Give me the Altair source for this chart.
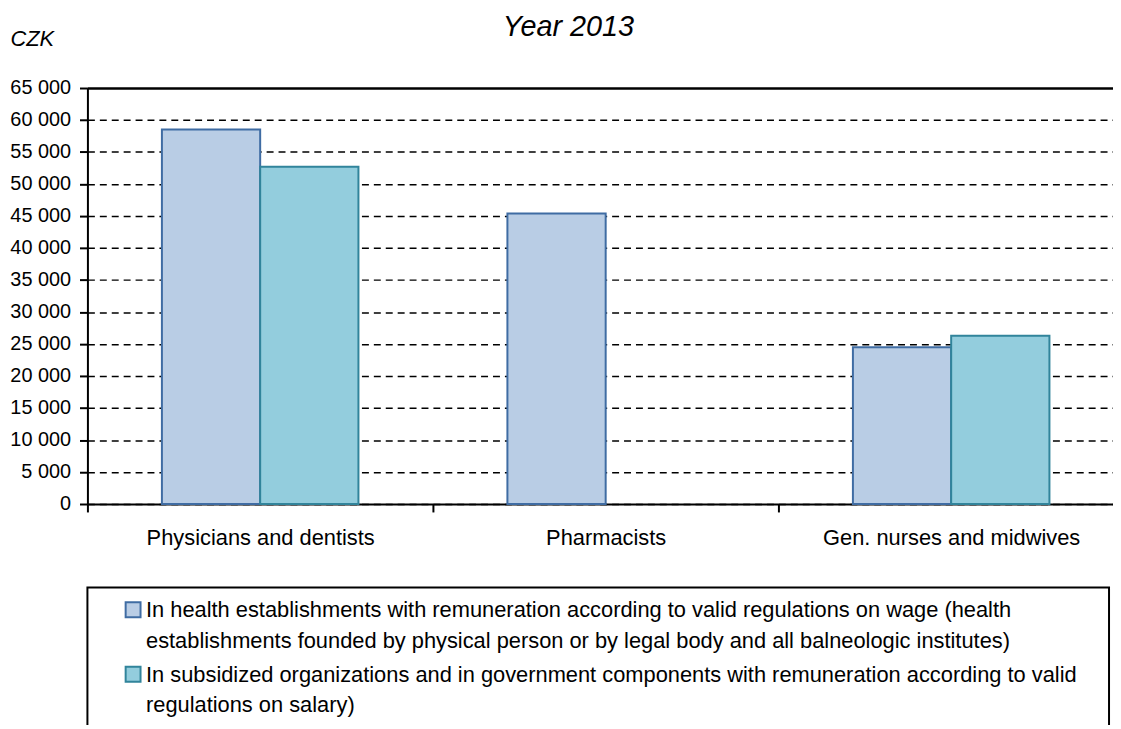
import altair as alt
import pandas as pd

categories = ["Physicians and dentists", "Pharmacists", "Gen. nurses and midwives"]
series_names = [
    "In health establishments with remuneration according to valid regulations on wage (health\n"
    "establishments founded by physical person or by legal body and all balneologic institutes)",
    "In subsidized organizations and in government components with remuneration according to valid\n"
    "regulations on salary)",
]
wage_values = [58500, 45400, 24500]
salary_values = [52700, None, 26300]
y_tick_values = list(range(0, 65001, 5000))
fill_colors = ["#B9CDE5", "#93CDDD"]
stroke_colors = ["#3F6CA3", "#31849B"]

rows = []
for cat, val in zip(categories, wage_values):
    rows.append({"category": cat, "series": series_names[0], "value": val})
for cat, val in zip(categories, salary_values):
    if val is not None:
        rows.append({"category": cat, "series": series_names[1], "value": val})
df = pd.DataFrame(rows)

FONT = "Liberation Sans"

legend = alt.Legend(
    title=" ",
    titleOrient="right",
    titlePadding=13,
    titleFontSize=22,
    orient="none",
    legendX=0,
    legendY=503,
    direction="vertical",
    symbolType="M-1,-2.0H1V0.0H-1Z",
    symbolSize=225,
    symbolStrokeWidth=2,
    symbolOffset=16,
    labelOffset=2,
    labelFontSize=22,
    labelFont=FONT,
    labelColor="black",
    labelLimit=3000,
    labelBaseline="alphabetic",
    labelExpr="split(datum.label, '\\n')",
    rowPadding=11,
    padding=19,
    strokeColor="black",
)

base = alt.Chart(df).mark_bar(strokeWidth=2).encode(
    x=alt.X(
        "category:N",
        sort=categories,
        scale=alt.Scale(domain=categories, rangeMax=1044, paddingInner=0, paddingOuter=0),
        axis=alt.Axis(
            title=None,
            labelAngle=0,
            tickBand="extent",
            tickSize=8,
            tickWidth=2,
            tickColor="black",
            domainColor="black",
            domainWidth=2,
            labelFontSize=22,
            labelFont=FONT,
            labelColor="black",
            labelPadding=16,
            labelLimit=400,
            grid=False,
        ),
    ),
    xOffset=alt.XOffset(
        "series:N", scale=alt.Scale(domain=series_names, paddingInner=0, paddingOuter=0.758)
    ),
    y=alt.Y(
        "value:Q",
        scale=alt.Scale(domain=[0, 65000], nice=False),
        axis=alt.Axis(
            values=y_tick_values,
            labelExpr="replace(format(datum.value, ','), ',', ' ')",
            title="CZK",
            titleAngle=0,
            titleX=-78,
            titleY=-43,
            titleAlign="left",
            titleBaseline="alphabetic",
            titleFontStyle="italic",
            titleFontWeight="normal",
            titleFontSize=22,
            titleFont=FONT,
            titleColor="black",
            labelFontSize=20,
            labelFont=FONT,
            labelColor="black",
            labelPadding=9,
            tickSize=8,
            tickWidth=2,
            tickColor="black",
            domainColor="black",
            domainWidth=2,
            grid=True,
            gridColor="black",
            gridDash={"condition": {"test": "datum.value === 65000", "value": []}, "value": [7, 5]},
            gridWidth={"condition": {"test": "datum.value === 65000", "value": 2.5}, "value": 1.5},
            gridOpacity=1,
        ),
    ),
    fill=alt.Fill("series:N", scale=alt.Scale(domain=series_names, range=fill_colors), legend=legend),
    stroke=alt.Stroke("series:N", scale=alt.Scale(domain=series_names, range=stroke_colors), legend=legend),
).properties(
    width=1033,
    height=419,
    title=alt.TitleParams(
        "Year 2013",
        anchor="middle",
        fontSize=29,
        fontStyle="italic",
        fontWeight="normal",
        font=FONT,
        color="black",
        dx=-32,
        dy=19,
    ),
    autosize=alt.AutoSizeParams(type="none"),
    padding={"left": 80, "top": 78, "right": 0, "bottom": 220},
)

chart = base.configure(style={"guide-label": {"lineHeight": 31}}).configure_view(stroke=None).configure_legend(strokeWidth=2)

chart.save("out.html", embed_options={"renderer": "svg", "actions": False})
